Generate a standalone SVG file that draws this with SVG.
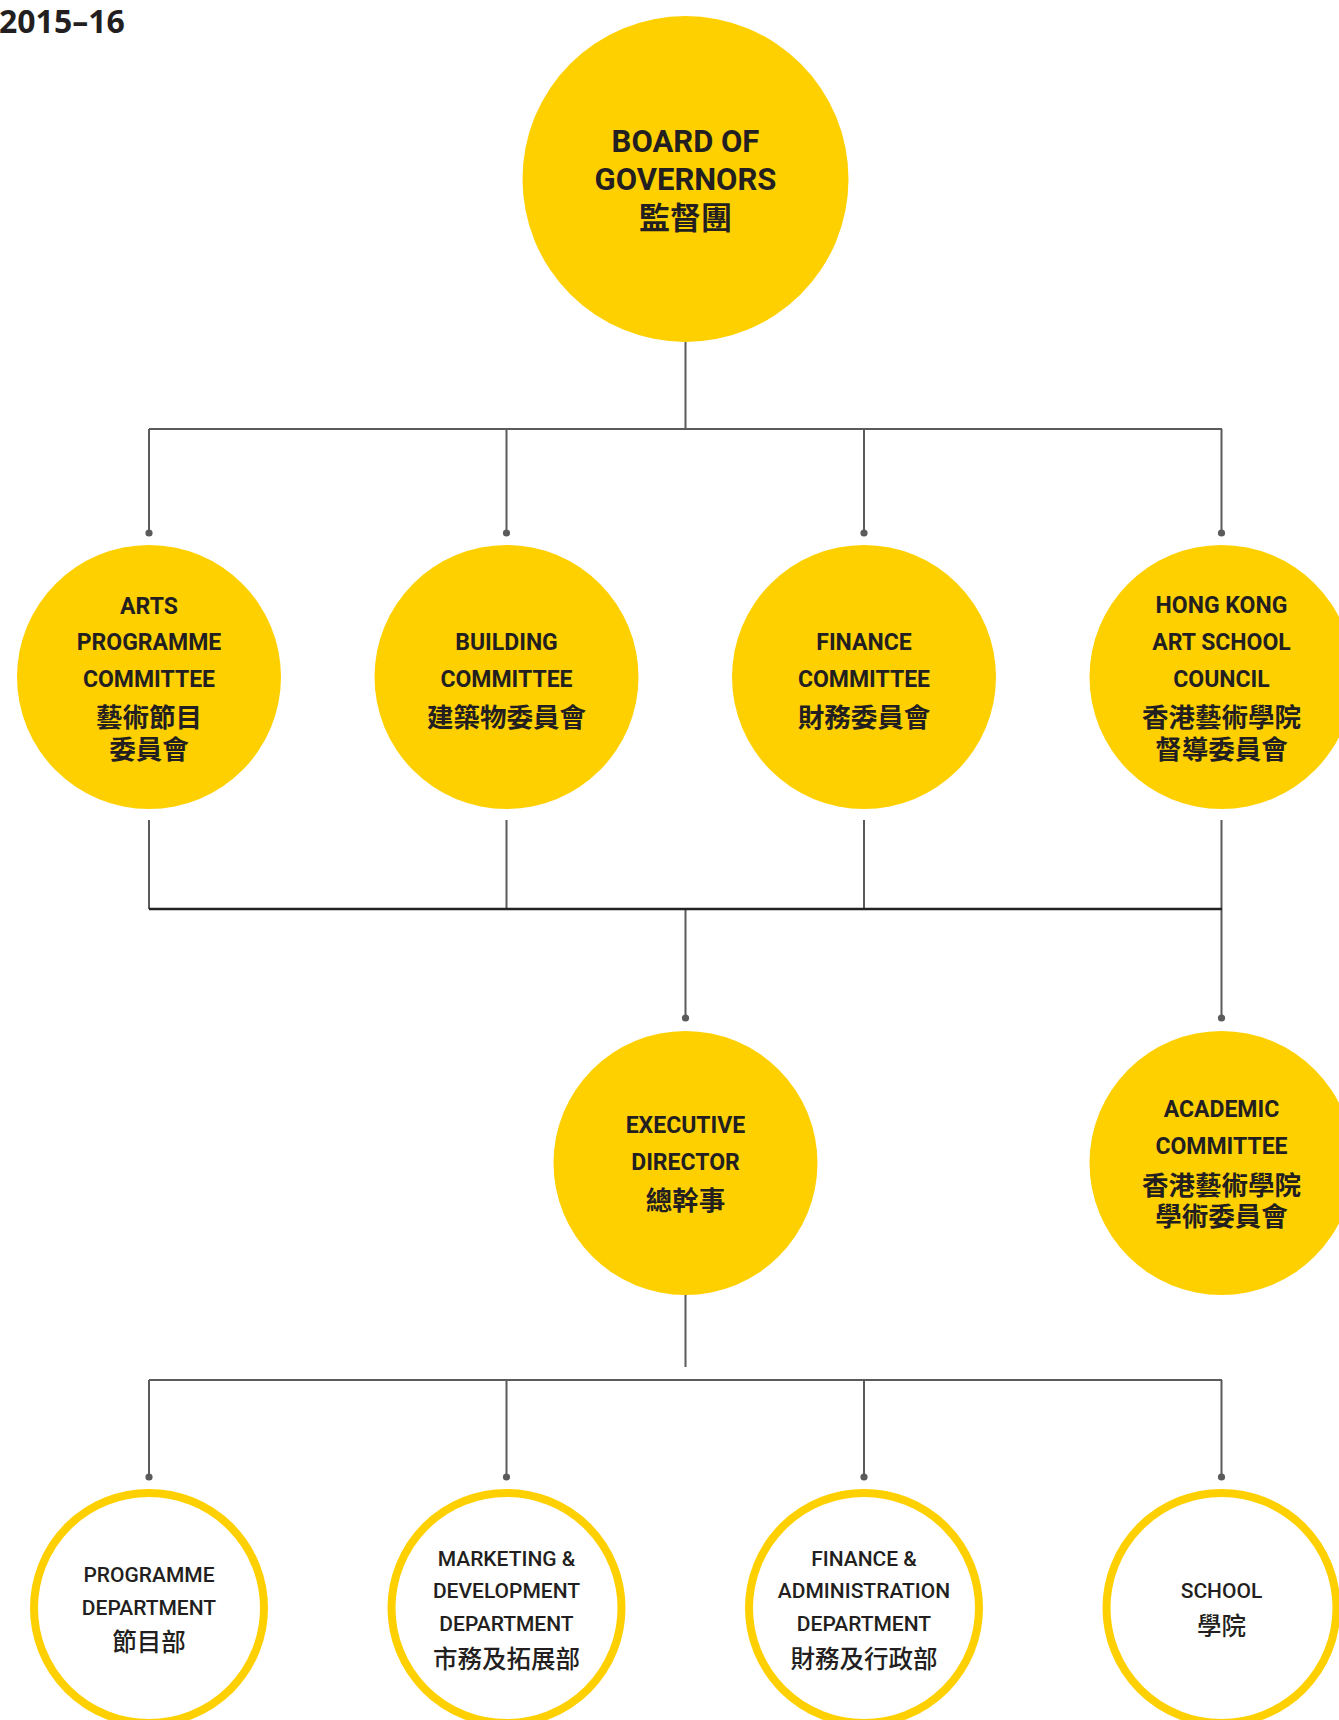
<svg xmlns="http://www.w3.org/2000/svg" width="1339" height="1720" viewBox="0 0 1339 1720">
<style>
.bg{fill:#ffffff}
.fill{fill:#FFD000}
.ring{fill:#ffffff;stroke:#FFD000;stroke-width:8}
.ln{stroke:#5b5b5b;stroke-width:2;fill:none}
.thick{stroke:#222222;stroke-width:2.6;fill:none}
.dot{fill:#5b5b5b}
text{font-family:Roboto,"Noto Sans","Noto Sans CJK TC",sans-serif;fill:#231f20;text-anchor:middle}
.t1{font-size:31px;font-weight:700}
.c1{font-size:31px;font-weight:700;font-family:"Noto Sans CJK TC",sans-serif}
.t2{font-size:23px;font-weight:700}
.c2{font-size:26.5px;font-weight:700;font-family:"Noto Sans CJK TC",sans-serif}
.t4{font-size:21px;font-weight:500}
.c4{font-size:24.5px;font-weight:500;font-family:"Noto Sans CJK TC",sans-serif}
.title{font-size:32px;font-weight:700;text-anchor:start;font-family:"Open Sans",Roboto,sans-serif}
</style>
<rect class="bg" x="0" y="0" width="1339" height="1720"/>
<text class="title" x="-1" y="33">2015–16</text>

<g id="connectors">
  <path class="ln" d="M685.5 342 V429 M149 429 H1222 M149 429 V533 M506.5 429 V533 M864 429 V533 M1221.5 429 V533"/>
  <path class="ln" d="M149 820 V909 M506.5 820 V909 M864 820 V909 M1221.5 820 V1018 M685.5 909 V1018"/>
  <path class="thick" d="M149 909 H1222"/>
  <path class="ln" d="M685.5 1295 V1367 M149 1380 H1222 M149 1380 V1477 M506.5 1380 V1477 M864 1380 V1477 M1221.5 1380 V1477"/>
  <circle class="dot" cx="149" cy="533" r="3.6"/>
  <circle class="dot" cx="506.5" cy="533" r="3.6"/>
  <circle class="dot" cx="864" cy="533" r="3.6"/>
  <circle class="dot" cx="1221.5" cy="533" r="3.6"/>
  <circle class="dot" cx="685.5" cy="1018" r="3.6"/>
  <circle class="dot" cx="1221.5" cy="1018" r="3.6"/>
  <circle class="dot" cx="149" cy="1477" r="3.6"/>
  <circle class="dot" cx="506.5" cy="1477" r="3.6"/>
  <circle class="dot" cx="864" cy="1477" r="3.6"/>
  <circle class="dot" cx="1221.5" cy="1477" r="3.6"/>
</g>

<g id="board">
  <circle class="fill" cx="685.5" cy="179" r="163"/>
  <text class="t1" x="685.5" y="152">BOARD OF</text>
  <text class="t1" x="685.5" y="190">GOVERNORS</text>
  <text class="c1" x="685.5" y="229">監督團</text>
</g>

<g id="arts-programme-committee">
  <circle class="fill" cx="149" cy="677" r="132"/>
  <text class="t2" x="149" y="614">ARTS</text>
  <text class="t2" x="149" y="650">PROGRAMME</text>
  <text class="t2" x="149" y="687">COMMITTEE</text>
  <text class="c2" x="149" y="727">藝術節目</text>
  <text class="c2" x="149" y="759">委員會</text>
</g>

<g id="building-committee">
  <circle class="fill" cx="506.5" cy="677" r="132"/>
  <text class="t2" x="506.5" y="650">BUILDING</text>
  <text class="t2" x="506.5" y="687">COMMITTEE</text>
  <text class="c2" x="506.5" y="727">建築物委員會</text>
</g>

<g id="finance-committee">
  <circle class="fill" cx="864" cy="677" r="132"/>
  <text class="t2" x="864" y="650">FINANCE</text>
  <text class="t2" x="864" y="687">COMMITTEE</text>
  <text class="c2" x="864" y="727">財務委員會</text>
</g>

<g id="hkas-council">
  <circle class="fill" cx="1221.5" cy="677" r="132"/>
  <text class="t2" x="1221.5" y="613">HONG KONG</text>
  <text class="t2" x="1221.5" y="650">ART SCHOOL</text>
  <text class="t2" x="1221.5" y="687">COUNCIL</text>
  <text class="c2" x="1221.5" y="727">香港藝術學院</text>
  <text class="c2" x="1221.5" y="759">督導委員會</text>
</g>

<g id="executive-director">
  <circle class="fill" cx="685.5" cy="1163" r="132"/>
  <text class="t2" x="685.5" y="1133">EXECUTIVE</text>
  <text class="t2" x="685.5" y="1170">DIRECTOR</text>
  <text class="c2" x="685.5" y="1210">總幹事</text>
</g>

<g id="academic-committee">
  <circle class="fill" cx="1221.5" cy="1163" r="132"/>
  <text class="t2" x="1221.5" y="1117">ACADEMIC</text>
  <text class="t2" x="1221.5" y="1154">COMMITTEE</text>
  <text class="c2" x="1221.5" y="1195">香港藝術學院</text>
  <text class="c2" x="1221.5" y="1226">學術委員會</text>
</g>

<g id="programme-department">
  <circle class="ring" cx="149" cy="1608" r="115"/>
  <text class="t4" x="149" y="1582">PROGRAMME</text>
  <text class="t4" x="149" y="1615">DEPARTMENT</text>
  <text class="c4" x="149" y="1651">節目部</text>
</g>

<g id="marketing-department">
  <circle class="ring" cx="506.5" cy="1608" r="115"/>
  <text class="t4" x="506.5" y="1566">MARKETING &amp;</text>
  <text class="t4" x="506.5" y="1598">DEVELOPMENT</text>
  <text class="t4" x="506.5" y="1631">DEPARTMENT</text>
  <text class="c4" x="506.5" y="1668">市務及拓展部</text>
</g>

<g id="finance-admin-department">
  <circle class="ring" cx="864" cy="1608" r="115"/>
  <text class="t4" x="864" y="1566">FINANCE &amp;</text>
  <text class="t4" x="864" y="1598">ADMINISTRATION</text>
  <text class="t4" x="864" y="1631">DEPARTMENT</text>
  <text class="c4" x="864" y="1668">財務及行政部</text>
</g>

<g id="school">
  <circle class="ring" cx="1221.5" cy="1608" r="115"/>
  <text class="t4" x="1221.5" y="1598">SCHOOL</text>
  <text class="c4" x="1221.5" y="1635">學院</text>
</g>
</svg>
